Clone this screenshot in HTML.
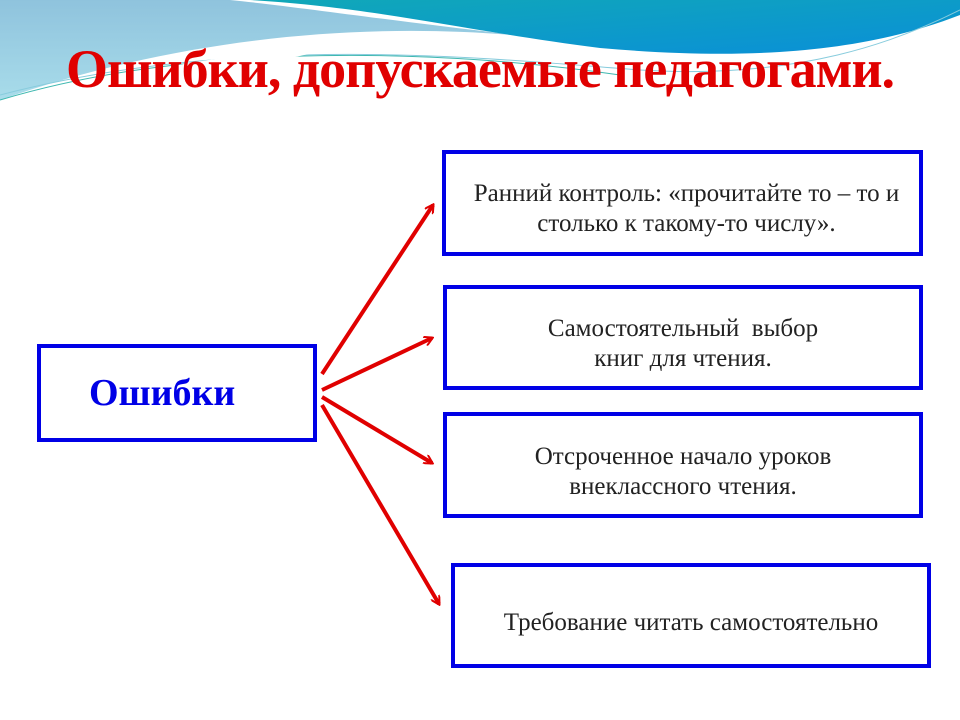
<!DOCTYPE html>
<html><head><meta charset="utf-8"><style>
body{margin:0;width:960px;height:720px;background:#fff;position:relative;overflow:hidden;font-family:"Liberation Serif",serif}
.box{position:absolute;border:4px solid #0000e6;box-sizing:border-box;display:flex;align-items:center;justify-content:center;text-align:center;font-size:25px;color:#222;line-height:30px;white-space:nowrap}
h1{position:absolute;left:0;width:960px;top:38px;margin:0;text-align:center;font-size:54px;color:#e00000;font-weight:bold;letter-spacing:-1px;white-space:nowrap}
</style></head><body>
<svg width="960" height="720" style="position:absolute;left:0;top:0">
<defs>
<linearGradient id="g1" x1="0" y1="0" x2="0" y2="1"><stop offset="0" stop-color="#8fc3dd"/><stop offset="1" stop-color="#a8dcea"/></linearGradient>
<linearGradient id="g2" x1="0" y1="0" x2="1" y2="1"><stop offset="0" stop-color="#10a8b8"/><stop offset="1" stop-color="#0a8fd8"/></linearGradient>
<marker id="a" markerWidth="10" markerHeight="10" refX="8" refY="5" orient="auto" markerUnits="userSpaceOnUse"><path d="M0,0 L9,5 L0,10" fill="none" stroke="#e00000" stroke-width="2"/></marker>
</defs>
<path d="M0,0 H960 V10 C860,40 700,50 560,40 C400,20 200,30 0,100 Z" fill="url(#g1)"/>
<path d="M230,0 H960 V0 C900,35 800,55 660,48 C480,35 330,10 230,0Z" fill="#fff"/>
<path d="M250,0 H960 V15 C870,50 760,62 600,48 C460,30 380,8 250,0Z" fill="url(#g2)"/>
<path d="M0,100 C200,40 450,50 620,75" fill="none" stroke="#3fb8b0" stroke-width="1"/>
<path d="M0,95 C250,30 500,60 640,70 C800,80 900,40 960,10" fill="none" stroke="#8cd" stroke-width="1"/>
<path d="M0,110 C120,70 250,50 330,48 C300,60 150,80 0,120Z" fill="#fff"/>
<g stroke="#e00000" stroke-width="4" marker-end="url(#a)">
<line x1="322" y1="374" x2="433" y2="205"/>
<line x1="322" y1="390" x2="432" y2="338"/>
<line x1="322" y1="397" x2="432" y2="463"/>
<line x1="322" y1="405" x2="439" y2="604"/>
</g>
</svg>
<h1>Ошибки, допускаемые педагогами.</h1>
<div class="box" style="left:37px;top:344px;width:280px;height:98px;font-size:38px;font-weight:bold;color:#0000e6;justify-content:flex-start;padding-left:48px">Ошибки</div>
<div class="box" style="left:442px;top:150px;width:481px;height:106px;justify-content:flex-start;padding-left:22px;text-align:center;display:block;padding-top:25px"><div style="width:437px">Ранний контроль: «прочитайте то – то и<br>столько к такому-то числу».</div></div>
<div class="box" style="left:443px;top:285px;width:480px;height:105px;padding-top:12px">Самостоятельный &nbsp;выбор<br>книг для чтения.</div>
<div class="box" style="left:443px;top:412px;width:480px;height:106px;padding-top:14px">Отсроченное начало уроков<br>внеклассного чтения.</div>
<div class="box" style="left:451px;top:563px;width:480px;height:105px;padding-top:14px">Требование читать самостоятельно</div>
</body></html>
